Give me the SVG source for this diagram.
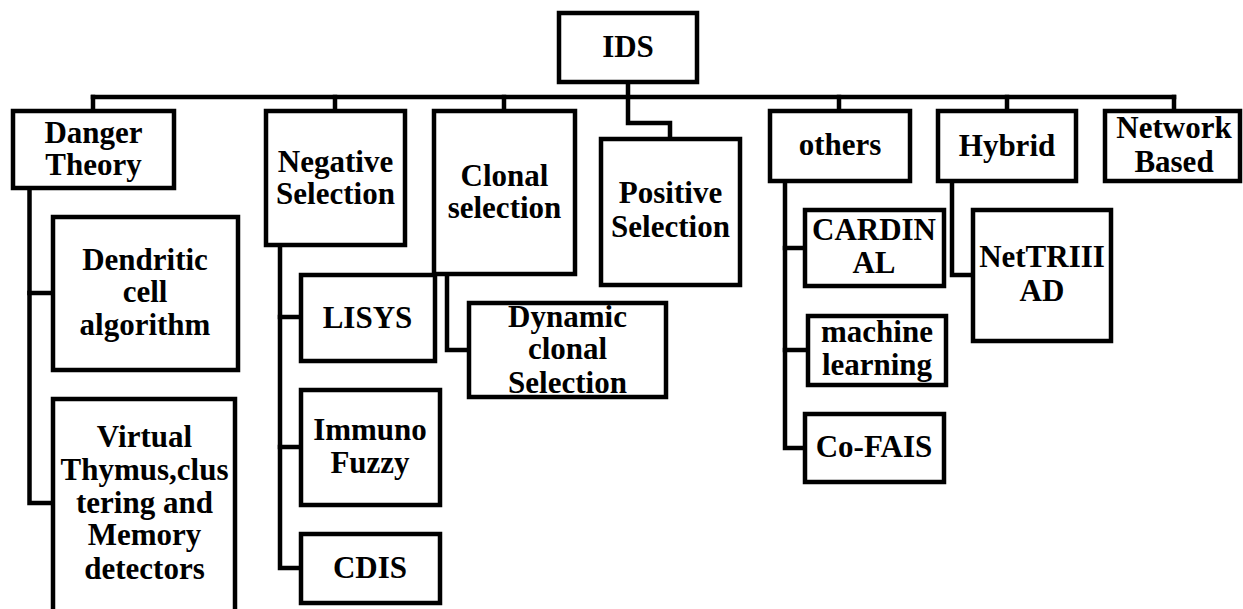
<svg xmlns="http://www.w3.org/2000/svg" width="1243" height="609" viewBox="0 0 1243 609">
  <style>
    .box { fill: #fff; stroke: #000; stroke-width: 4.5; }
    .wire { fill: none; stroke: #000; stroke-width: 4.5; stroke-linejoin: miter; stroke-linecap: square; }
    .lbl { font-family: 'Liberation Serif', 'DejaVu Serif', serif; font-weight: bold; font-size: 31px; text-anchor: middle; fill: #000; }
  </style>
  <rect width="1243" height="609" fill="#fff"/>

  <!-- connectors -->
  <g id="connectors">
    <path class="wire" d="M628 84 V123 H670 V137"/>
    <path class="wire" d="M93 97 H1174"/>
    <path class="wire" d="M93 97 V109"/>
    <path class="wire" d="M335 97 V109"/>
    <path class="wire" d="M504 97 V109"/>
    <path class="wire" d="M839 97 V109"/>
    <path class="wire" d="M1007 97 V109"/>
    <path class="wire" d="M1174 97 V109"/>
    <!-- Danger Theory children -->
    <path class="wire" d="M29.5 190 V503 H51"/>
    <path class="wire" d="M29.5 293 H51"/>
    <!-- Negative Selection children -->
    <path class="wire" d="M280 247 V568 H299"/>
    <path class="wire" d="M280 317 H299"/>
    <path class="wire" d="M280 447 H299"/>
    <!-- Clonal selection child -->
    <path class="wire" d="M447 276 V350 H467"/>
    <!-- others children -->
    <path class="wire" d="M785 183 V448 H803"/>
    <path class="wire" d="M785 248 H803"/>
    <path class="wire" d="M785 350 H806"/>
    <!-- Hybrid child -->
    <path class="wire" d="M952 183 V275 H971"/>
  </g>

  <g class="lbl" font-family="Liberation Serif, serif" font-weight="bold">
  <g id="ids">
    <rect class="box" x="559" y="13" width="138" height="69"/>
    <text x="628" y="57">IDS</text>
  </g>

  <g id="danger-theory">
    <rect class="box" x="13" y="111" width="161" height="77"/>
    <text x="93.5" y="143">Danger</text>
    <text x="93.5" y="175">Theory</text>
  </g>

  <g id="negative-selection">
    <rect class="box" x="266" y="111" width="139" height="134"/>
    <text x="335.5" y="172">Negative</text>
    <text x="335.5" y="204">Selection</text>
  </g>

  <g id="clonal-selection">
    <rect class="box" x="434" y="111" width="141" height="163"/>
    <text x="504.5" y="186">Clonal</text>
    <text x="504.5" y="218">selection</text>
  </g>

  <g id="positive-selection">
    <rect class="box" x="601" y="139" width="139" height="146"/>
    <text x="670.5" y="203">Positive</text>
    <text x="670.5" y="237">Selection</text>
  </g>

  <g id="others">
    <rect class="box" x="770" y="111" width="140" height="70"/>
    <text x="840" y="155">others</text>
  </g>

  <g id="hybrid">
    <rect class="box" x="938" y="111" width="138" height="70"/>
    <text x="1007" y="156">Hybrid</text>
  </g>

  <g id="network-based">
    <rect class="box" x="1105" y="111" width="135" height="70"/>
    <text x="1174" y="138">Network</text>
    <text x="1174" y="172">Based</text>
  </g>

  <g id="dendritic-cell">
    <rect class="box" x="53" y="217" width="185" height="153"/>
    <text x="145" y="270">Dendritic</text>
    <text x="145" y="302">cell</text>
    <text x="145" y="335">algorithm</text>
  </g>

  <g id="virtual-thymus">
    <rect class="box" x="53" y="399" width="182" height="222"/>
    <text x="144.5" y="447">Virtual</text>
    <text x="144.5" y="480">Thymus,clus</text>
    <text x="144.5" y="513">tering and</text>
    <text x="144.5" y="545">Memory</text>
    <text x="144.5" y="579">detectors</text>
  </g>

  <g id="lisys">
    <rect class="box" x="301" y="275" width="134" height="86"/>
    <text x="367.5" y="328">LISYS</text>
  </g>

  <g id="immuno-fuzzy">
    <rect class="box" x="301" y="390" width="139" height="115"/>
    <text x="370" y="440">Immuno</text>
    <text x="370" y="473">Fuzzy</text>
  </g>

  <g id="cdis">
    <rect class="box" x="301" y="534" width="139" height="69"/>
    <text x="370" y="578">CDIS</text>
  </g>

  <g id="dynamic-clonal">
    <rect class="box" x="469" y="303" width="197" height="94"/>
    <text x="567.5" y="327">Dynamic</text>
    <text x="567.5" y="359">clonal</text>
    <text x="567.5" y="393">Selection</text>
  </g>

  <g id="cardinal">
    <rect class="box" x="805" y="210" width="139" height="76"/>
    <text x="874" y="240">CARDIN</text>
    <text x="874" y="273">AL</text>
  </g>

  <g id="machine-learning">
    <rect class="box" x="808" y="316" width="138" height="69"/>
    <text x="877" y="342">machine</text>
    <text x="877" y="375">learning</text>
  </g>

  <g id="co-fais">
    <rect class="box" x="805" y="414" width="139" height="68"/>
    <text x="874" y="457">Co-FAIS</text>
  </g>

  <g id="nettriiiad">
    <rect class="box" x="973" y="210" width="138" height="131"/>
    <text x="1042" y="267">NetTRIII</text>
    <text x="1042" y="301">AD</text>
  </g>
  </g>
</svg>
